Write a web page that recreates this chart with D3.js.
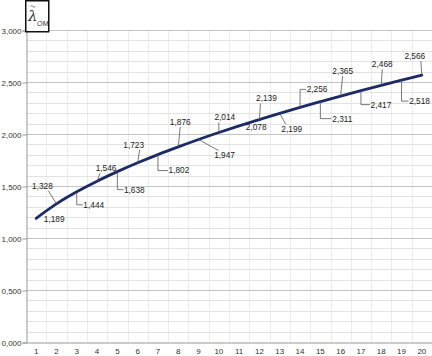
<!DOCTYPE html>
<html>
<head>
<meta charset="utf-8">
<script src="https://cdn.jsdelivr.net/npm/d3@7"></script>
<style>
  body { margin: 0; background: #fff; }
  svg { display: block; font-family: "Liberation Sans", Arial, sans-serif; }
</style>
</head>
<body>
<svg></svg>
<script>
// data
let categories = d3.range(1, 21)
let values = [1.189, 1.328, 1.444, 1.546, 1.638, 1.723, 1.802, 1.876, 1.947, 2.014,
              2.078, 2.139, 2.199, 2.256, 2.311, 2.365, 2.417, 2.468, 2.518, 2.566]
let yTicks = [0, 0.5, 1, 1.5, 2, 2.5, 3]

// label placement (offset of label centre from its point, and leader style)
let labelPos = [
  [18, 1, 'none'], [-14, -18, 'diag'], [17, 13, 'elbow'], [9, -13, 'diag'], [17, 18, 'elbow'],
  [-4, -18, 'diag'], [21, 16, 'elbow'], [2, -25, 'diag'], [26, 16, 'diag'], [6, -15, 'diag'],
  [17, 1, 'none'], [7, -21, 'diag'], [12, 16, 'diag'], [17, -18, 'elbow'], [22, 17, 'elbow'],
  [2, -25, 'diag'], [20, 14, 'elbow'], [1, -21, 'diag'], [18, 21, 'elbow'], [-7, -19, 'diag']
]

let width = 432, height = 356
let margin = {top: 30, right: 0, bottom: 14, left: 26}

let svg = d3.select('svg')
            .attr('width', width)
            .attr('height', height)

let fmt = d => d3.format('.3f')(d).replace('.', ',')

//x scale
let xScale = d3.scaleBand()
      .domain(categories)
      .range([margin.left, width - margin.right])

//y scale
let yScale = d3.scaleLinear()
      .domain([0, 3])
      .range([height - margin.bottom, margin.top])

let xc = d => xScale(d) + xScale.bandwidth() / 2

// minor vertical grid
svg.append('g')
   .selectAll('line')
   .data(categories.slice(1))
   .enter()
   .append('line')
   .attr('x1', d => Math.round(xScale(d)) + 0.5)
   .attr('x2', d => Math.round(xScale(d)) + 0.5)
   .attr('y1', yScale(3))
   .attr('y2', yScale(0))
   .attr('stroke', '#ececec')

// minor horizontal grid
svg.append('g')
   .selectAll('line')
   .data(d3.range(1, 30).filter(d => d % 5 != 0).map(d => d / 10))
   .enter()
   .append('line')
   .attr('x1', margin.left)
   .attr('x2', width)
   .attr('y1', d => Math.round(yScale(d)) + 0.5)
   .attr('y2', d => Math.round(yScale(d)) + 0.5)
   .attr('stroke', '#e3e3e3')

// major horizontal grid
svg.append('g')
   .selectAll('line')
   .data(yTicks.slice(1))
   .enter()
   .append('line')
   .attr('x1', margin.left)
   .attr('x2', width)
   .attr('y1', d => Math.round(yScale(d)) + 0.5)
   .attr('y2', d => Math.round(yScale(d)) + 0.5)
   .attr('stroke', '#c4c4c4')

// axes
let yAxis = d3.axisLeft(yScale)
              .tickValues(yTicks)
              .tickSize(4)
              .tickFormat(fmt)
let gy = svg.append('g')
            .attr('transform', 'translate(' + (margin.left + 0.5) + ',0.5)')
            .call(yAxis)
gy.select('.domain').attr('stroke', '#999')
gy.selectAll('.tick line').attr('stroke', '#999')
gy.selectAll('.tick text')
  .attr('x', -5)
  .attr('font-size', 8)
  .attr('fill', '#333')
  .attr('font-family', '"Liberation Sans", Arial, sans-serif')

let xAxis = d3.axisBottom(xScale)
              .tickSize(0)
              .tickPadding(6)
let gx = svg.append('g')
            .attr('transform', 'translate(0,' + (Math.round(yScale(0)) + 0.5) + ')')
            .call(xAxis)
gx.select('.domain').attr('stroke', '#999')
gx.selectAll('.tick text')
  .attr('font-size', 8)
  .attr('fill', '#333')
  .attr('font-family', '"Liberation Sans", Arial, sans-serif')

// the curve
let line = d3.line()
             .x((d, i) => xc(categories[i]))
             .y(d => yScale(d))
             .curve(d3.curveCatmullRom)

svg.append('path')
   .datum(values)
   .attr('d', line)
   .attr('fill', 'none')
   .attr('stroke', '#1c2a66')
   .attr('stroke-width', 2.8)
   .attr('stroke-linecap', 'round')

// data labels with leader lines
let labels = svg.append('g')
values.forEach((v, i) => {
  let px = xc(categories[i]), py = yScale(v)
  let [dx, dy, kind] = labelPos[i]
  let tx = px + dx, ty = py + dy
  let hw = 10, hh = 4
  let path = null
  if (kind == 'diag') {
    let ex = dx > 0 ? tx - hw * 0.6 : tx + hw * 0.6
    let ey = dy > 0 ? ty - hh - 1 : ty + hh + 1
    if (Math.abs(dx) < 4) ex = tx
    path = 'M' + px + ',' + py + 'L' + ex + ',' + ey
  } else if (kind == 'elbow') {
    path = 'M' + px + ',' + py + 'L' + px + ',' + ty + 'L' + (tx - hw - 1) + ',' + ty
  }
  if (path) {
    labels.append('path')
          .attr('d', path)
          .attr('fill', 'none')
          .attr('stroke', '#555')
          .attr('stroke-width', 0.8)
  }
  labels.append('text')
        .attr('x', tx)
        .attr('y', ty)
        .attr('dy', '0.35em')
        .attr('text-anchor', 'middle')
        .attr('font-size', 8.3)
        .attr('fill', '#1a1a1a')
        .text(fmt(v))
})

// axis title box
let box = svg.append('g').attr('transform', 'translate(25,0)')
box.append('rect')
   .attr('x', 0.75).attr('y', 0.75)
   .attr('width', 23).attr('height', 31)
   .attr('fill', '#fff')
   .attr('stroke', '#111')
   .attr('stroke-width', 1.5)
box.append('path')
   .attr('d', 'M5.5,6.5 q1.2,-1.6 2.4,0 t2.4,0')
   .attr('fill', 'none')
   .attr('stroke', '#444')
   .attr('stroke-width', 0.7)
box.append('text')
   .attr('x', 3).attr('y', 21)
   .attr('font-size', 15)
   .attr('font-style', 'italic')
   .attr('font-family', '"DejaVu Serif", serif')
   .attr('fill', '#333')
   .text('λ')
box.append('text')
   .attr('x', 12).attr('y', 26)
   .attr('font-size', 7)
   .attr('font-style', 'italic')
   .attr('fill', '#333')
   .text('OM')
</script>
</body>
</html>
